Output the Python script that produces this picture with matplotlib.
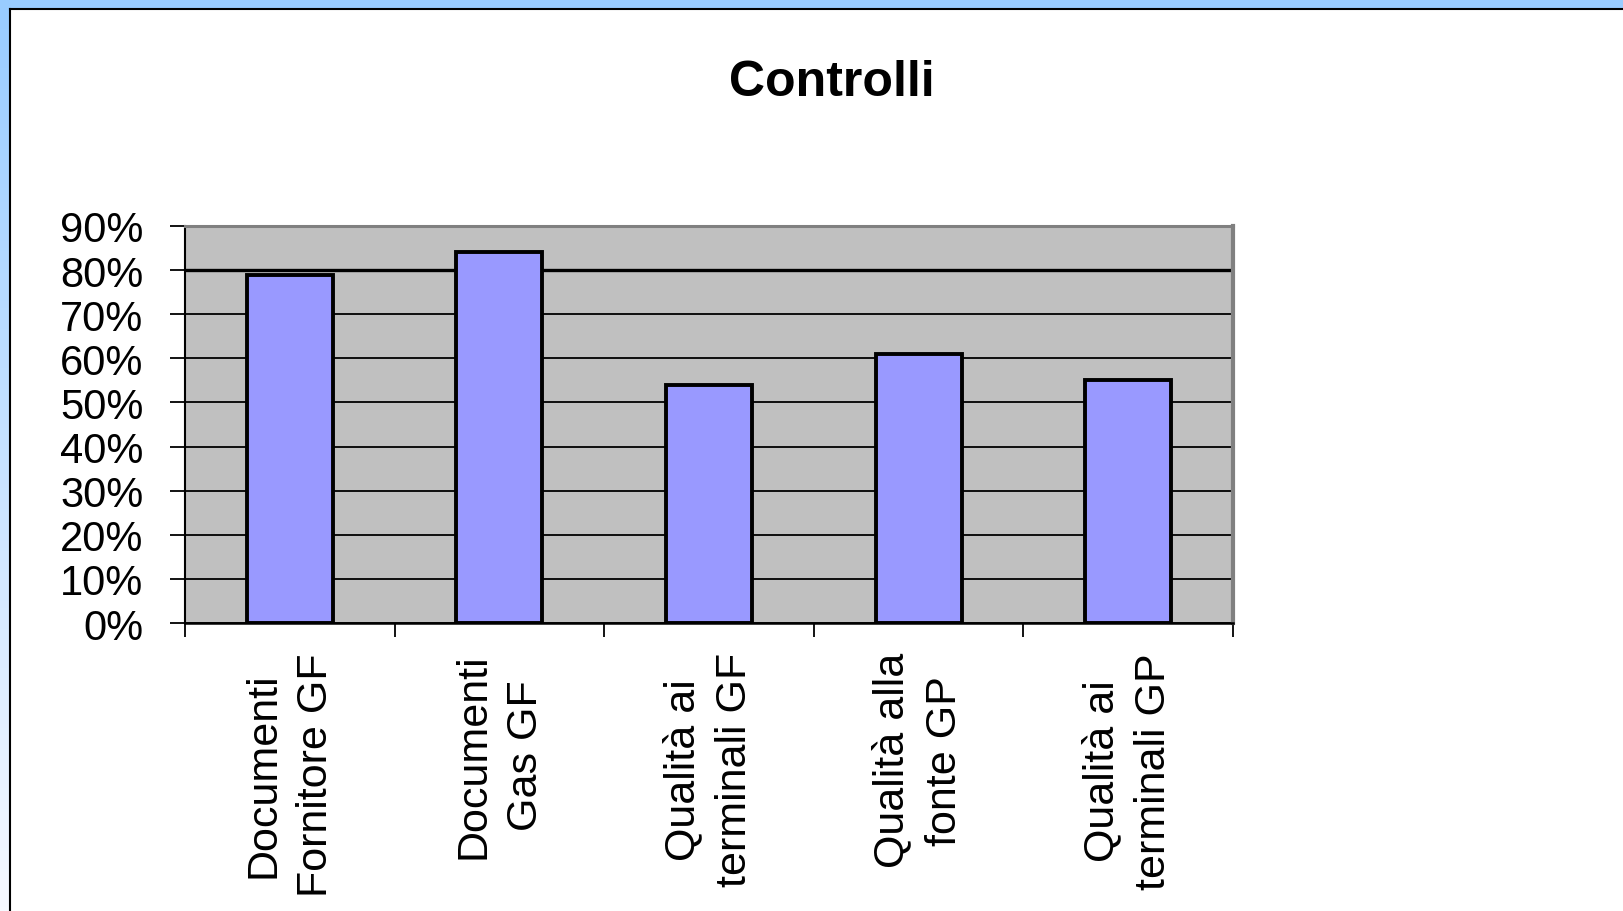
import numpy as np
import matplotlib.pyplot as plt
from matplotlib.patches import Rectangle
from matplotlib.lines import Line2D
from matplotlib.colors import LinearSegmentedColormap
from matplotlib.ticker import PercentFormatter

plt.rcParams['font.family'] = ['Liberation Sans', 'DejaVu Sans']

categorie = ['Documenti\nFornitore GF', 'Documenti\nGas GF', 'Qualità ai\nterminali GF',
             'Qualità alla\nfonte GP', 'Qualità ai\nterminali GP']
valori = [0.79, 0.84, 0.54, 0.61, 0.55]
obiettivo = 0.80
tacche_y = [0.0, 0.1, 0.2, 0.3, 0.4, 0.5, 0.6, 0.7, 0.8, 0.9]

W, H = 1623, 912
fig = plt.figure(figsize=(W / 100, H / 100), dpi=100)
fig.patch.set_facecolor('white')

# cornice della finestra (banda azzurra sopra e a sinistra)
fig.add_artist(Rectangle((0, 1 - 9 / H), 1, 9 / H, transform=fig.transFigure,
                         color='#99CCFF', lw=0, zorder=0))
ax_bordo = fig.add_axes([0, 0, 9 / W, 1 - 9 / H])
grad = LinearSegmentedColormap.from_list('bordo', ['#F6F9FF', '#99CCFF'])
ax_bordo.imshow(np.linspace(0, 1, 256).reshape(-1, 1), aspect='auto', cmap=grad, origin='lower')
ax_bordo.axis('off')
fig.add_artist(Line2D([9.5 / W, 9.5 / W], [0, 1 - 9.5 / H], color='black', lw=1.5,
                      transform=fig.transFigure))
fig.add_artist(Line2D([9.5 / W, 1], [1 - 9.5 / H, 1 - 9.5 / H], color='black', lw=1.5,
                      transform=fig.transFigure))

fig.text(832 / W, 1 - 83 / H, 'Controlli', ha='center', va='center',
         fontsize=36, fontweight='bold')

ax = fig.add_axes([185 / W, (H - 624) / H, 1048 / W, (624 - 227) / H])
ax.set_facecolor('#C0C0C0')

x = np.arange(len(categorie))
ax.bar(x, valori, width=0.41, color='#9999FF', edgecolor='black', linewidth=2.8, zorder=3)

ax.set_ylim(0, 0.9)
ax.set_xlim(-0.5, len(categorie) - 0.5)
ax.set_yticks(tacche_y)
ax.yaxis.set_major_formatter(PercentFormatter(1.0, decimals=0))
ax.yaxis.grid(True, color='black', lw=1.3, zorder=1)
ax.axhline(obiettivo, color='black', lw=2.4, zorder=2)
ax.set_axisbelow(True)

# tacche ai confini delle categorie, etichette al centro
ax.set_xticks(np.arange(len(categorie) + 1) - 0.5)
ax.set_xticklabels([])
ax.set_xticks(x, minor=True)
ax.set_xticklabels(categorie, minor=True, rotation=90, fontsize=31, linespacing=1.4)
ax.tick_params(axis='x', which='major', length=10, width=1.3, direction='out', color='black')
ax.tick_params(axis='x', which='minor', length=0, pad=21)
ax.tick_params(axis='y', length=11, width=1.3, direction='out', labelsize=30, pad=19)

ax.spines['left'].set_color('black')
ax.spines['left'].set_linewidth(1.5)
ax.spines['bottom'].set_color('black')
ax.spines['bottom'].set_linewidth(1.8)
ax.spines['top'].set_color('#808080')
ax.spines['top'].set_linewidth(2.2)
ax.spines['right'].set_color('#808080')
ax.spines['right'].set_linewidth(3)

plt.savefig('out.png', dpi=100)
